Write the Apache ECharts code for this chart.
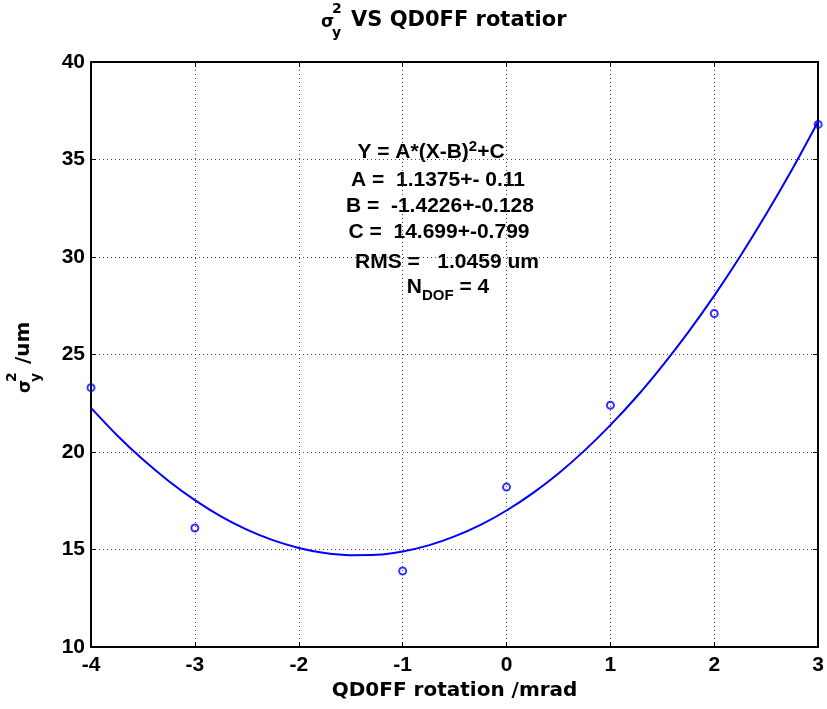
<!DOCTYPE html>
<html>
<head>
<meta charset="utf-8">
<script src="https://cdn.jsdelivr.net/npm/echarts@6/dist/echarts.min.js"></script>
<style>
html,body{margin:0;padding:0;background:#fff;}
#chart{width:827px;height:709px;}
</style>
</head>
<body>
<div id="chart"></div>
<script>
// Measured points
var rotation = [-4, -3, -1, 0, 1, 2, 3];
var sigma2 = [23.3, 16.1, 13.9, 18.2, 22.4, 27.1, 36.8];

// Fitted curve
var fitX = [-4, -3.75, -3.5, -3.25, -3, -2.75, -2.5, -2.25, -2, -1.75, -1.5, -1.25, -1, -0.75, -0.5, -0.25, 0, 0.25, 0.5, 0.75, 1, 1.25, 1.5, 1.75, 2, 2.25, 2.5, 2.75, 3];
var fitY = [22.26, 20.86, 19.61, 18.50, 17.53, 16.70, 16.02, 15.48, 15.08, 14.82, 14.71, 14.73, 14.90, 15.21, 15.67, 16.26, 17.00, 17.88, 18.90, 20.07, 21.38, 22.82, 24.42, 26.15, 28.02, 30.04, 32.20, 34.50, 36.95];

var xTicks = [-4, 3, 1];   // min, max, interval
var yTicks = [10, 40, 5];

var fitLines = [
  '{t|Y = A*(X-B)}{sup|2}{t|+C}',
  'A =  1.1375+- 0.11',
  'B =  -1.4226+-0.128',
  'C =  14.699+-0.799',
  'RMS =   1.0459 um',
  '{t|N}{sub|DOF}{t| = 4}'
];

var chart = echarts.init(document.getElementById('chart'));
var bold = 'bold';
var tickFont = {fontFamily: 'Liberation Sans', fontWeight: bold, fontSize: 21, color: '#000'};
var labFont = 'DejaVu Sans';

function pairs(xs, ys) { return xs.map(function (x, i) { return [x, ys[i]]; }); }

var splitStyle = {show: true, lineStyle: {color: '#444', type: [1, 3], width: 1}};
var lineStyle = {color: '#000', width: 2};

var annCenters = [431, 438, 440, 439, 447, 448];
var annY = [152, 180, 206, 232, 262, 287];
var annRich = {
  t: {fontFamily: 'Liberation Sans', fontWeight: bold, fontSize: 21, color: '#000'},
  sup: {fontFamily: 'Liberation Sans', fontWeight: bold, fontSize: 15, color: '#000', verticalAlign: 'top', padding: [0, 0, 10, 0]},
  sub: {fontFamily: 'Liberation Sans', fontWeight: bold, fontSize: 15, color: '#000', padding: [18, 0, 0, 0]}
};
var graphics = fitLines.map(function (s, i) {
  return {
    type: 'text', x: annCenters[i], y: annY[i], silent: true,
    style: {text: s, fontFamily: 'Liberation Sans', fontWeight: bold, fontSize: 21, fill: '#000',
      align: 'center', verticalAlign: 'middle', rich: annRich}
  };
});

// Title
graphics.push({
  type: 'group', x: 321, y: 21, silent: true,
  children: [
    {type: 'text', x: 0, y: 2, style: {text: 'σ', fontFamily: labFont, fontWeight: bold, fontSize: 17, fill: '#000', verticalAlign: 'middle'}},
    {type: 'text', x: 11, y: -12, style: {text: '2', fontFamily: labFont, fontWeight: bold, fontSize: 14, fill: '#000', verticalAlign: 'middle'}},
    {type: 'text', x: 11, y: 12, style: {text: 'y', fontFamily: labFont, fontWeight: bold, fontSize: 14, fill: '#000', verticalAlign: 'middle'}},
    {type: 'text', x: 30, y: 0, style: {text: 'VS QD0FF rotatior', fontFamily: labFont, fontWeight: bold, fontSize: 21, fill: '#000', verticalAlign: 'middle'}}
  ]
});

// Y axis name (rotated)
graphics.push({
  type: 'group', x: 24, y: 393, rotation: Math.PI / 2, silent: true,
  children: [
    {type: 'text', x: 0, y: 2, style: {text: 'σ', fontFamily: labFont, fontWeight: bold, fontSize: 17, fill: '#000', verticalAlign: 'middle'}},
    {type: 'text', x: 11, y: -12, style: {text: '2', fontFamily: labFont, fontWeight: bold, fontSize: 14, fill: '#000', verticalAlign: 'middle'}},
    {type: 'text', x: 11, y: 12, style: {text: 'y', fontFamily: labFont, fontWeight: bold, fontSize: 14, fill: '#000', verticalAlign: 'middle'}},
    {type: 'text', x: 22, y: 0, style: {text: ' /um', fontFamily: labFont, fontWeight: bold, fontSize: 20, fill: '#000', verticalAlign: 'middle'}}
  ]
});

var option = {
  animation: false,
  backgroundColor: '#fff',
  grid: {left: 91, right: 5, top: 62, bottom: 62, containLabel: false},
  xAxis: [{
    type: 'value', min: xTicks[0], max: xTicks[1], interval: xTicks[2],
    name: 'QD0FF rotation /mrad', nameLocation: 'middle', nameGap: 34,
    nameTextStyle: {fontFamily: labFont, fontWeight: bold, fontSize: 20, color: '#000'},
    axisLine: {show: true, onZero: false, lineStyle: lineStyle},
    axisTick: {show: true, inside: true, length: 5, lineStyle: {color: '#000', width: 1}},
    axisLabel: Object.assign({margin: 8}, tickFont),
    splitLine: splitStyle
  }, {
    type: 'value', position: 'top', min: xTicks[0], max: xTicks[1], interval: xTicks[2],
    axisLine: {show: true, onZero: false, lineStyle: lineStyle},
    axisTick: {show: true, inside: true, length: 5, lineStyle: {color: '#000', width: 1}},
    axisLabel: {show: false}, splitLine: {show: false}
  }],
  yAxis: [{
    type: 'value', min: yTicks[0], max: yTicks[1], interval: yTicks[2],
    axisLine: {show: true, onZero: false, lineStyle: lineStyle},
    axisTick: {show: true, inside: true, length: 5, lineStyle: {color: '#000', width: 1}},
    axisLabel: Object.assign({margin: 6}, tickFont),
    splitLine: splitStyle
  }, {
    type: 'value', position: 'right', min: yTicks[0], max: yTicks[1], interval: yTicks[2],
    axisLine: {show: true, onZero: false, lineStyle: lineStyle},
    axisTick: {show: true, inside: true, length: 5, lineStyle: {color: '#000', width: 1}},
    axisLabel: {show: false}, splitLine: {show: false}
  }],
  graphic: graphics,
  series: [{
    type: 'line', name: 'fit', data: pairs(fitX, fitY), smooth: 0.3, showSymbol: false,
    lineStyle: {color: '#0000ff', width: 2}, itemStyle: {color: '#0000ff'}, z: 3
  }, {
    type: 'scatter', name: 'data', data: pairs(rotation, sigma2), symbol: 'circle', symbolSize: 7,
    itemStyle: {color: 'rgba(0,0,0,0)', borderColor: '#0000ff', borderWidth: 2}, z: 4
  }]
};
chart.setOption(option);
</script>
</body>
</html>
